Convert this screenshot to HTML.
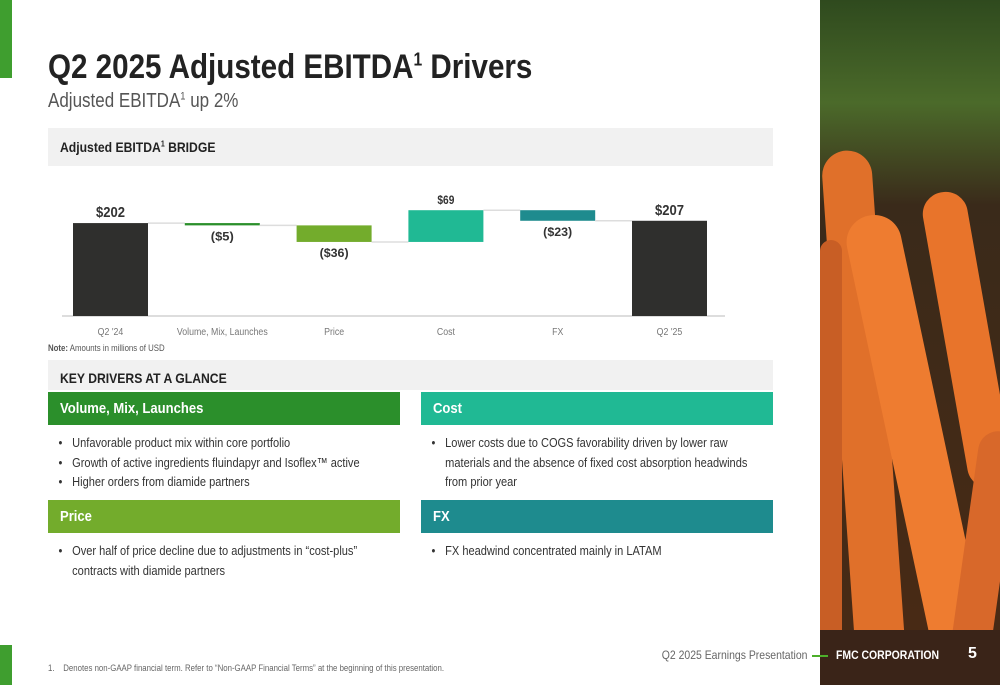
<!DOCTYPE html>
<html><head><meta charset="utf-8"><style>
*{margin:0;padding:0;box-sizing:border-box}
body{width:1000px;height:685px;position:relative;overflow:hidden;background:#fff;font-family:"Liberation Sans",sans-serif;color:#333}
.abs{position:absolute}
.n{display:inline-block;transform:scaleX(.87);transform-origin:left;white-space:nowrap}
.hdr{color:#fff;font-weight:bold;font-size:15px;padding:8px 0 0 12px;height:33px}
ul{list-style:none;font-size:13px;line-height:19.5px;color:#333;transform:scaleX(.85);transform-origin:left top}
li{position:relative;padding-left:19px;margin-bottom:0}
li:before{content:"•";position:absolute;left:3px}
</style></head><body>
<div class="abs" style="left:0;top:0;width:12px;height:78px;background:#3f9e2f"></div>
<div class="abs" style="left:0;top:645px;width:12px;height:40px;background:#3f9e2f"></div>
<div class="abs" style="left:48px;top:48px;font-size:34px;font-weight:bold;color:#222;transform:scaleX(0.87);transform-origin:left;white-space:nowrap">Q2 2025 Adjusted EBITDA<sup style="font-size:18px">1</sup> Drivers</div>
<div class="abs" style="left:48px;top:90px;font-size:20px;color:#555;transform:scaleX(0.85);transform-origin:left;white-space:nowrap">Adjusted EBITDA<sup style="font-size:11px">1</sup> up 2%</div>
<div class="abs" style="left:48px;top:128px;width:725px;height:38px;background:#f1f1f1;font-size:14px;font-weight:bold;padding:11px 0 0 12px;color:#222"><span class="n">Adjusted EBITDA<sup style="font-size:8px">1</sup> BRIDGE</span></div>
<svg class="abs" id="chart" style="left:0;top:0" width="820" height="360"></svg>
<div class="abs" style="left:48px;top:343px;font-size:9px;color:#555"><span class="n"><b>Note:</b> Amounts in millions of USD</span></div>
<div class="abs" style="left:48px;top:360px;width:725px;height:30px;background:#f1f1f1;font-size:14px;font-weight:bold;padding:10px 0 0 12px;color:#222"><span class="n">KEY DRIVERS AT A GLANCE</span></div>
<div class="abs hdr" style="left:48px;top:392px;width:352px;background:#2b8f2b"><span class="n">Volume, Mix, Launches</span></div>
<div class="abs hdr" style="left:421px;top:392px;width:352px;background:#20b994"><span class="n">Cost</span></div>
<div class="abs hdr" style="left:48px;top:500px;width:352px;background:#73ac2c"><span class="n">Price</span></div>
<div class="abs hdr" style="left:421px;top:500px;width:352px;background:#1e8b8e"><span class="n">FX</span></div>
<ul class="abs" style="left:56px;top:433px;width:400px"><li>Unfavorable product mix within core portfolio</li><li>Growth of active ingredients fluindapyr and Isoflex™ active</li><li>Higher orders from diamide partners</li></ul>
<ul class="abs" style="left:429px;top:433px;width:400px"><li>Lower costs due to COGS favorability driven by lower raw materials and the absence of fixed cost absorption headwinds from prior year</li></ul>
<ul class="abs" style="left:56px;top:541px;width:380px"><li>Over half of price decline due to adjustments in “cost-plus” contracts with diamide partners</li></ul>
<ul class="abs" style="left:429px;top:541px;width:400px"><li>FX headwind concentrated mainly in LATAM</li></ul>
<div class="abs" style="left:48px;top:663px;font-size:9px;color:#666"><span class="n">1.&nbsp;&nbsp;&nbsp; Denotes non-GAAP financial term. Refer to “Non-GAAP Financial Terms” at the beginning of this presentation.</span></div>
<div class="abs" style="left:820px;top:0;width:180px;height:685px;background:linear-gradient(180deg,#2f4a1e 0%,#4b6a2a 15%,#3a2a1a 30%,#4a2a14 100%);overflow:hidden">
<div style="position:absolute;left:20px;top:150px;width:50px;height:560px;background:#e0702a;border-radius:25px;transform:rotate(-4deg)"></div>
<div style="position:absolute;left:75px;top:210px;width:55px;height:520px;background:#ee7c30;border-radius:27px;transform:rotate(-12deg)"></div>
<div style="position:absolute;left:125px;top:190px;width:45px;height:300px;background:#e8742b;border-radius:22px;transform:rotate(-10deg)"></div>
<div style="position:absolute;left:140px;top:430px;width:40px;height:300px;background:#d8682a;border-radius:20px;transform:rotate(8deg)"></div>
<div style="position:absolute;left:0;top:240px;width:22px;height:450px;background:#c85e25;border-radius:11px"></div>
<div style="position:absolute;left:0;top:630px;width:180px;height:55px;background:#3a2418"></div>
</div>
<div class="abs" style="right:193px;top:648px;font-size:12px;color:#666;transform:scaleX(.87);transform-origin:right;white-space:nowrap">Q2 2025 Earnings Presentation</div>
<div class="abs" style="left:812px;top:655px;width:16px;height:2px;background:#4caf2a"></div>
<div class="abs" style="left:836px;top:648px;font-size:12px;color:#fff;font-weight:bold"><span class="n">FMC CORPORATION</span></div>
<div class="abs" style="left:968px;top:645px;font-size:16px;color:#fff;font-weight:bold">5</div>
<script>
const categories=["Q2 '24","Volume, Mix, Launches","Price","Cost","FX","Q2 '25"];
const deltas=[202,-5,-36,69,-23,207];
const labels=["$202","($5)","($36)","$69","($23)","$207"];
const colors=["#2f2f2d","#2b8f2b","#73ac2c","#20b994","#1e8b8e","#2f2f2d"];
const svg=document.getElementById('chart');const NS="http://www.w3.org/2000/svg";
const base=316, k=0.46, x0=73, step=111.8, bw=75;
const y=v=>base-v*k; const xc=i=>x0+i*step;
function mk(t,a){const e=document.createElementNS(NS,t);for(const q in a)e.setAttribute(q,a[q]);svg.appendChild(e);return e;}
const ax=mk('line',{x1:62,x2:725,y1:base,y2:base,stroke:'#ddd','stroke-width':2});


let run=0;
for(let i=0;i<categories.length;i++){
 let a,b;const total=(i==0||i==categories.length-1);
 if(total){a=0;b=deltas[i];run=deltas[i];}else{a=run;b=run+deltas[i];run=b;}
 const top=Math.max(a,b),bot=Math.min(a,b);
 const r=mk('rect',{x:xc(i),y:y(top),width:bw,height:Math.max(2,(top-bot)*k),fill:colors[i]});
 
 
 if(i<categories.length-1){const nxt=run;const c=mk('line',{x1:xc(i)+bw,x2:xc(i+1),y1:y(nxt),y2:y(nxt),stroke:'#ddd','stroke-width':1.5});
 
 }
 const up=total||deltas[i]>0;
 const t=mk('text',{x:xc(i)+bw/2,y:up?y(top)-6:y(bot)+15,'text-anchor':'middle','font-size':total?15:12,'font-weight':'bold',fill:'#333','font-family':'Liberation Sans',textLength:(labels[i].length*(total?7.2:5.8)).toFixed(0),lengthAdjust:'spacingAndGlyphs'});
 t.textContent=labels[i];
 
 
 const c2=mk('text',{x:xc(i)+bw/2,y:335,'text-anchor':'middle','font-size':10,fill:'#777','font-family':'Liberation Sans',transform:`translate(${(xc(i)+bw/2)*0.12},0) scale(0.88,1)`});
 c2.textContent=categories[i];
 
 
}
</script>
</body></html>
